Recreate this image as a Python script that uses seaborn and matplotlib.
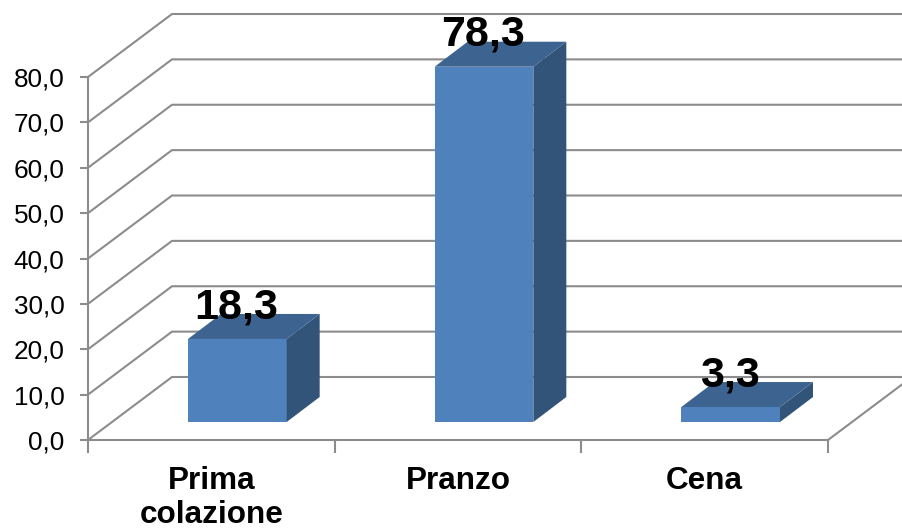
import matplotlib
matplotlib.use("Agg")
import matplotlib.pyplot as plt
import pandas as pd
import seaborn as sns
from matplotlib.ticker import FuncFormatter

categorie = ["Prima\ncolazione", "Pranzo", "Cena"]
valori = [18.3, 78.3, 3.3]
tick_y = [0, 10, 20, 30, 40, 50, 60, 70, 80]

W, H = 903, 530
GRIGIO = "#8C8C8C"
FRONTE = "#4F81BD"
LATO = "#325479"
SOPRA = "#3D6390"


def virgola(v):
    return f"{v:.1f}".replace(".", ",")


sns.set_theme(style="white")
plt.rcParams["font.family"] = ["Liberation Sans", "DejaVu Sans"]

fig = plt.figure(figsize=(W / 100, H / 100), dpi=100)

# assi principali: pareti e griglia in finta prospettiva
ax = fig.add_axes([88 / W, (H - 440) / H, 740 / W, 363 / H])
ax.set_xlim(-0.5, 2.5)
ax.set_ylim(0, 80)
ax.patch.set_visible(False)
sns.despine(ax=ax)
for lato in ["left", "bottom"]:
    ax.spines[lato].set_color(GRIGIO)
    ax.spines[lato].set_linewidth(1.5)

ax.set_yticks(tick_y)
ax.yaxis.set_major_formatter(FuncFormatter(lambda v, _: virgola(v)))
ax.tick_params(axis="y", left=True, length=6, width=1.5, color=GRIGIO, pad=11,
               labelsize=18.8, labelcolor="black")
ax.set_xticks(range(len(categorie)), categorie)
ax.set_xticks([-0.5, 0.5, 1.5, 2.5], minor=True)
ax.tick_params(axis="x", which="major", length=0, pad=19, labelsize=22.7, labelcolor="black")
ax.tick_params(axis="x", which="minor", bottom=True, length=9, width=1.5, color=GRIGIO)
for t in ax.get_xticklabels():
    t.set_fontweight("bold")
    t.set_linespacing(1.15)

# profondita delle pareti in unita dei dati
px_x = 740 / 3
px_y = 363 / 80
prof_x = 84 / px_x
prof_y = 63 / px_y

for v in tick_y:
    ax.plot([-0.5, -0.5 + prof_x, 2.5 + prof_x], [v, v + prof_y, v + prof_y],
            color=GRIGIO, lw=1.5, clip_on=False, zorder=1)
ax.plot([2.5, 2.5 + prof_x], [0, prof_y], color=GRIGIO, lw=1.5, clip_on=False, zorder=1)

# barre su assi spostati, piede della barra dentro il pavimento
ax2 = fig.add_axes([114 / W, (H - 422) / H, 740 / W, 363 / H])
df = pd.DataFrame({"pasto": categorie, "valore": valori})
sns.barplot(data=df, x="pasto", y="valore", color=FRONTE, saturation=1, width=0.4, ax=ax2)
ax2.set_xlim(-0.5, 2.5)
ax2.set_ylim(0, 80)
ax2.axis("off")

bar_x = 33 / px_x
bar_y = 25 / px_y
for barra, val in zip(ax2.patches, valori):
    x0 = barra.get_x()
    x1 = x0 + barra.get_width()
    h = barra.get_height()
    barra.set_edgecolor("none")
    ax2.fill([x1, x1 + bar_x, x1 + bar_x, x1], [0, bar_y, h + bar_y, h],
             color=LATO, lw=0, clip_on=False)
    ax2.fill([x0, x1, x1 + bar_x, x0 + bar_x], [h, h, h + bar_y, h + bar_y],
             color=SOPRA, lw=0, clip_on=False)
    ax2.annotate(virgola(val), (x0 + barra.get_width() / 2, h), xytext=(-0.5, 15),
                 textcoords="offset points", ha="center", va="baseline",
                 fontsize=31, fontweight="bold", color="black", zorder=10,
                 annotation_clip=False)

fig.savefig("out.png", dpi=100)
